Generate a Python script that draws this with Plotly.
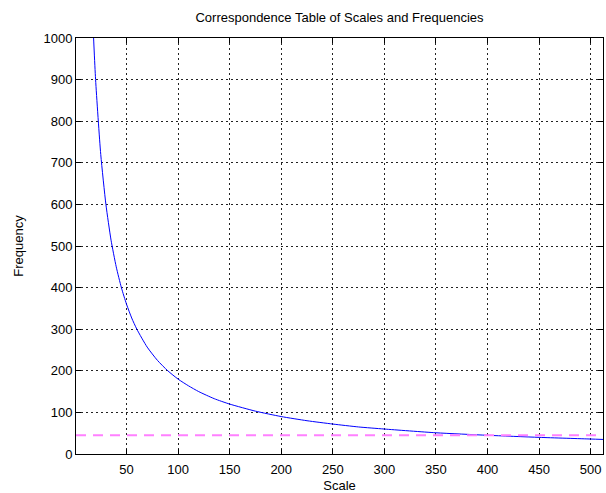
import plotly.graph_objects as go

# Values
scales = [15, 17, 20, 25, 30, 35, 40, 45, 50, 55, 60, 70, 80, 90, 100, 110, 120, 135,
          150, 175, 200, 225, 250, 275, 300, 350, 400, 450, 500, 512]
freqs = [1200, 1060, 900, 720, 600, 514, 450, 400, 360, 327, 300, 257, 225, 200, 180, 164,
         150, 133, 120, 103, 90, 80, 72, 65, 60, 51, 45, 40, 36, 35]
ref_x = [1, 512]
ref_freq = [45, 45]

x_ticks = [50, 100, 150, 200, 250, 300, 350, 400, 450, 500]
y_ticks = [0, 100, 200, 300, 400, 500, 600, 700, 800, 900, 1000]

fig = go.Figure()
fig.add_trace(go.Scatter(x=scales, y=freqs, mode="lines",
                         line=dict(color="#0000ff", width=1, shape="spline", smoothing=0.6),
                         showlegend=False))
fig.add_trace(go.Scatter(x=ref_x, y=ref_freq, mode="lines",
                         line=dict(color="#ff80ff", width=2, dash="10px,7px"),
                         showlegend=False))

font = "Liberation Sans, Arial, sans-serif"
axis_common = dict(showline=True, linecolor="black", linewidth=1, mirror="ticks",
                   ticks="inside", ticklen=5, tickcolor="black", automargin=False,
                   showgrid=True, gridcolor="#222222", gridwidth=1, griddash="2px,3px",
                   zeroline=False, tickfont=dict(family=font, size=13, color="black"))

fig.update_xaxes(range=[1, 512], tickvals=x_ticks, ticklabelstandoff=3,
                 title=dict(text="Scale", font=dict(family=font, size=13, color="black"), standoff=6),
                 **axis_common)
fig.update_yaxes(range=[0, 1000], tickvals=y_ticks,
                 title=dict(text="Frequency", font=dict(family=font, size=13, color="black"), standoff=16),
                 **axis_common)

fig.update_layout(
    width=606, height=493,
    margin=dict(l=76, r=3, t=38, b=39),
    paper_bgcolor="white", plot_bgcolor="white",
    title=dict(text="Correspondence Table of Scales and Frequencies",
               font=dict(family=font, size=13, color="black"),
               x=0.5, xanchor="center", xref="paper", y=1, yref="container", yanchor="top", pad=dict(t=13)),
)

fig.write_html("out.html")
